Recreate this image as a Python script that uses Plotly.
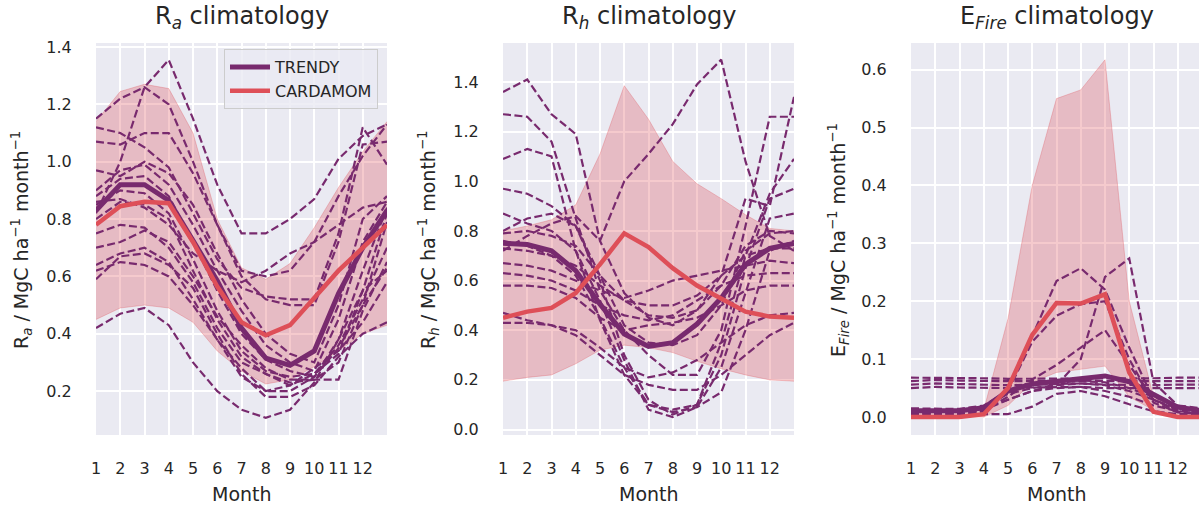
import plotly.graph_objects as go

# ---------------- data ----------------
MONTHS = list(range(1, 14))          # 13 points (Jan repeated at the end)
TICK_VALS = list(range(1, 13))
TICK_LABELS = [str(m) for m in range(1, 13)]

# ---- Ra ----
ra_trendy_mean = [0.83, 0.92, 0.92, 0.865, 0.725, 0.585, 0.42, 0.315, 0.29, 0.34, 0.54, 0.70, 0.83]
ra_cardamom = [0.78, 0.845, 0.86, 0.855, 0.72, 0.565, 0.44, 0.395, 0.43, 0.525, 0.62, 0.70, 0.78]
ra_card_low = [0.45, 0.49, 0.50, 0.49, 0.44, 0.34, 0.27, 0.225, 0.24, 0.285, 0.34, 0.40, 0.43]
ra_card_high = [1.14, 1.245, 1.27, 1.255, 1.10, 0.80, 0.63, 0.59, 0.645, 0.77, 0.91, 1.035, 1.14]
ra_models = [
    [1.15, 1.22, 1.26, 1.20, 1.00, 0.78, 0.62, 0.60, 0.62, 0.72, 0.88, 1.02, 1.13],
    [0.82, 1.00, 1.26, 1.355, 1.15, 0.92, 0.75, 0.75, 0.80, 0.87, 1.01, 1.09, 1.13],
    [1.12, 1.10, 1.05, 0.98, 0.82, 0.66, 0.56, 0.53, 0.52, 0.52, 0.75, 1.12, 0.99],
    [1.07, 1.06, 1.10, 1.10, 0.96, 0.78, 0.60, 0.52, 0.50, 0.50, 0.72, 1.06, 1.07],
    [0.97, 0.95, 1.00, 0.96, 0.85, 0.68, 0.52, 0.40, 0.33, 0.30, 0.50, 0.80, 0.88],
    [0.90, 0.97, 0.99, 0.92, 0.78, 0.62, 0.48, 0.36, 0.30, 0.27, 0.45, 0.72, 0.86],
    [0.88, 0.94, 0.95, 0.88, 0.72, 0.55, 0.40, 0.31, 0.27, 0.25, 0.38, 0.62, 0.84],
    [0.85, 0.90, 0.89, 0.82, 0.66, 0.48, 0.34, 0.27, 0.25, 0.26, 0.33, 0.55, 0.82],
    [0.80, 0.86, 0.85, 0.80, 0.62, 0.45, 0.32, 0.26, 0.23, 0.24, 0.30, 0.50, 0.79],
    [0.75, 0.78, 0.77, 0.70, 0.58, 0.42, 0.30, 0.26, 0.22, 0.26, 0.36, 0.52, 0.70],
    [0.70, 0.72, 0.76, 0.72, 0.60, 0.46, 0.36, 0.28, 0.24, 0.24, 0.24, 0.48, 0.65],
    [0.64, 0.68, 0.70, 0.65, 0.52, 0.38, 0.25, 0.20, 0.22, 0.28, 0.34, 0.44, 0.58],
    [0.59, 0.67, 0.68, 0.64, 0.56, 0.40, 0.26, 0.18, 0.18, 0.22, 0.32, 0.40, 0.44],
    [0.42, 0.47, 0.49, 0.43, 0.30, 0.20, 0.135, 0.107, 0.135, 0.23, 0.38, 0.55, 0.62],
    [0.62, 0.65, 0.64, 0.60, 0.50, 0.38, 0.28, 0.20, 0.20, 0.25, 0.35, 0.50, 0.63],
    [0.86, 0.87, 0.84, 0.78, 0.68, 0.62, 0.58, 0.62, 0.68, 0.72, 0.78, 0.84, 0.86],
]

# ---- Rh ----
rh_trendy_mean = [0.75, 0.745, 0.72, 0.64, 0.505, 0.385, 0.335, 0.35, 0.425, 0.53, 0.665, 0.73, 0.75]
rh_cardamom = [0.45, 0.475, 0.49, 0.55, 0.665, 0.79, 0.735, 0.65, 0.58, 0.525, 0.475, 0.455, 0.45]
rh_card_low = [0.195, 0.21, 0.22, 0.265, 0.32, 0.34, 0.33, 0.31, 0.275, 0.245, 0.22, 0.20, 0.195]
rh_card_high = [0.80, 0.82, 0.845, 0.905, 1.11, 1.385, 1.25, 1.08, 0.99, 0.93, 0.865, 0.81, 0.80]
rh_models = [
    [1.36, 1.41, 1.27, 1.19, 0.76, 0.55, 0.45, 0.42, 0.48, 0.62, 0.93, 0.90, 1.34],
    [1.27, 1.26, 1.16, 0.85, 0.56, 0.40, 0.30, 0.22, 0.22, 0.40, 0.82, 1.26, 1.26],
    [1.09, 1.13, 1.10, 0.72, 0.44, 0.22, 0.10, 0.08, 0.10, 0.35, 0.70, 0.95, 1.09],
    [0.72, 0.78, 0.83, 0.86, 0.76, 1.00, 1.11, 1.23, 1.39, 1.49, 1.08, 0.78, 0.72],
    [0.97, 0.95, 0.90, 0.82, 0.60, 0.30, 0.12, 0.06, 0.10, 0.30, 0.65, 0.93, 0.97],
    [0.87, 0.83, 0.80, 0.72, 0.52, 0.28, 0.08, 0.05, 0.09, 0.25, 0.55, 0.85, 0.87],
    [0.80, 0.85, 0.87, 0.82, 0.62, 0.42, 0.35, 0.34, 0.38, 0.50, 0.72, 0.79, 0.80],
    [0.79, 0.80, 0.78, 0.74, 0.62, 0.52, 0.46, 0.45, 0.48, 0.58, 0.74, 0.80, 0.79],
    [0.73, 0.72, 0.70, 0.66, 0.58, 0.52, 0.50, 0.50, 0.54, 0.62, 0.70, 0.73, 0.73],
    [0.67, 0.66, 0.64, 0.60, 0.56, 0.53, 0.56, 0.60, 0.62, 0.64, 0.66, 0.68, 0.67],
    [0.63, 0.62, 0.60, 0.56, 0.50, 0.46, 0.44, 0.46, 0.52, 0.58, 0.62, 0.63, 0.63],
    [0.58, 0.58, 0.57, 0.53, 0.45, 0.40, 0.42, 0.43, 0.45, 0.50, 0.56, 0.58, 0.58],
    [0.47, 0.44, 0.42, 0.40, 0.33, 0.25, 0.21, 0.23, 0.28, 0.35, 0.42, 0.46, 0.47],
    [0.43, 0.43, 0.42, 0.38, 0.30, 0.22, 0.18, 0.16, 0.16, 0.22, 0.30, 0.38, 0.43],
    [0.76, 0.74, 0.70, 0.62, 0.45, 0.25, 0.10, 0.07, 0.09, 0.15, 0.40, 0.72, 0.76],
]

# ---- EFire ----
fire_trendy_mean = [0.011, 0.011, 0.011, 0.016, 0.045, 0.057, 0.061, 0.066, 0.071, 0.061, 0.040, 0.017, 0.011]
fire_cardamom = [0.0, 0.0, 0.0, 0.005, 0.05, 0.142, 0.197, 0.196, 0.212, 0.077, 0.009, 0.0, 0.0]
fire_card_low = [0.0, 0.0, 0.0, 0.0, 0.02, 0.06, 0.077, 0.082, 0.088, 0.035, 0.012, 0.0, 0.0]
fire_card_high = [0.01, 0.01, 0.01, 0.012, 0.17, 0.40, 0.55, 0.565, 0.617, 0.20, 0.035, 0.008, 0.005]
fire_models = [
    [0.010, 0.010, 0.010, 0.015, 0.030, 0.045, 0.055, 0.100, 0.242, 0.274, 0.060, 0.020, 0.010],
    [0.005, 0.005, 0.005, 0.010, 0.050, 0.140, 0.235, 0.257, 0.220, 0.120, 0.030, 0.010, 0.005],
    [0.005, 0.005, 0.005, 0.010, 0.045, 0.130, 0.175, 0.195, 0.200, 0.100, 0.025, 0.008, 0.005],
    [0.010, 0.010, 0.010, 0.012, 0.035, 0.065, 0.090, 0.120, 0.150, 0.090, 0.030, 0.012, 0.010],
    [0.005, 0.005, 0.005, 0.004, 0.005, 0.018, 0.040, 0.045, 0.036, 0.022, 0.010, 0.005, 0.005],
    [0.068, 0.068, 0.067, 0.067, 0.066, 0.066, 0.066, 0.066, 0.066, 0.067, 0.067, 0.068, 0.068],
    [0.062, 0.064, 0.063, 0.062, 0.062, 0.062, 0.063, 0.063, 0.062, 0.062, 0.062, 0.063, 0.062],
    [0.056, 0.058, 0.057, 0.056, 0.055, 0.056, 0.057, 0.058, 0.056, 0.055, 0.055, 0.056, 0.056],
    [0.050, 0.052, 0.051, 0.050, 0.050, 0.051, 0.052, 0.052, 0.050, 0.050, 0.050, 0.050, 0.050],
    [0.015, 0.015, 0.014, 0.020, 0.045, 0.055, 0.060, 0.062, 0.060, 0.050, 0.035, 0.020, 0.015],
    [0.012, 0.012, 0.012, 0.018, 0.040, 0.050, 0.055, 0.058, 0.055, 0.045, 0.030, 0.015, 0.012],
    [0.008, 0.008, 0.008, 0.012, 0.030, 0.045, 0.050, 0.052, 0.045, 0.035, 0.020, 0.010, 0.008],
]

TITLES = ["R<sub><i>a</i></sub> climatology", "R<sub><i>h</i></sub> climatology",
          "E<sub><i>Fire</i></sub> climatology"]
YLABELS = ["R<sub><i>a</i></sub> / MgC ha<sup>−1</sup> month<sup>−1</sup>",
           "R<sub><i>h</i></sub> / MgC ha<sup>−1</sup> month<sup>−1</sup>",
           "E<sub><i>Fire</i></sub> / MgC ha<sup>−1</sup> month<sup>−1</sup>"]
XLABEL = "Month"

# ---------------- style ----------------
FW, FH = 1199, 510
PURPLE = "#782a6e"
RED = "#de4f58"
FILL = "rgba(222,79,88,0.30)"
EDGE = "rgba(222,79,88,0.30)"
BG = "#eaeaf2"
TXT = "#262626"
FONT = "DejaVu Sans"


def px_x(px):
    return px / FW


def px_y(py):
    return 1 - py / FH


panels_px = [(96, 387), (503, 794), (911, 1202)]
top_px, bot_px = 43, 435
yranges = [[0.047, 1.414], [-0.022, 1.557], [-0.031, 0.646]]
ydtick = [0.2, 0.2, 0.1]

panels = [
    (ra_models, ra_trendy_mean, ra_cardamom, ra_card_low, ra_card_high),
    (rh_models, rh_trendy_mean, rh_cardamom, rh_card_low, rh_card_high),
    (fire_models, fire_trendy_mean, fire_cardamom, fire_card_low, fire_card_high),
]

fig = go.Figure()
for i, (models, mean, card, low, high) in enumerate(panels):
    sfx = "" if i == 0 else str(i + 1)
    xa, ya = "x" + sfx, "y" + sfx
    fig.add_trace(go.Scatter(x=MONTHS, y=low, mode="lines", line=dict(color=EDGE, width=1),
                             showlegend=False, hoverinfo="skip", xaxis=xa, yaxis=ya))
    fig.add_trace(go.Scatter(x=MONTHS, y=high, mode="lines", fill="tonexty", fillcolor=FILL,
                             line=dict(color=EDGE, width=1),
                             showlegend=False, hoverinfo="skip", xaxis=xa, yaxis=ya))
    for m in models:
        fig.add_trace(go.Scatter(x=MONTHS, y=m, mode="lines",
                                 line=dict(color=PURPLE, width=2.2, dash="8px,3.5px"),
                                 showlegend=False, xaxis=xa, yaxis=ya))
    fig.add_trace(go.Scatter(x=MONTHS, y=mean, mode="lines", name="TRENDY", legendgroup="t",
                             line=dict(color=PURPLE, width=5), showlegend=(i == 0),
                             xaxis=xa, yaxis=ya))
    fig.add_trace(go.Scatter(x=MONTHS, y=card, mode="lines", name="CARDAMOM", legendgroup="c",
                             line=dict(color=RED, width=4.5), showlegend=(i == 0),
                             xaxis=xa, yaxis=ya))

layout = dict(
    width=FW, height=FH, margin=dict(l=0, r=0, t=0, b=0),
    paper_bgcolor="white", plot_bgcolor=BG,
    font=dict(family=FONT, color=TXT, size=16),
    legend=dict(x=px_x(378), xanchor="right", y=px_y(49), yanchor="top",
                traceorder="normal", tracegroupgap=4, itemwidth=40,
                bgcolor="rgba(234,234,242,0.8)", bordercolor="#cccccc", borderwidth=1,
                font=dict(size=16, color=TXT)),
    annotations=[],
)
for i in range(3):
    sfx = "" if i == 0 else str(i + 1)
    x0, x1 = panels_px[i]
    spacing = (x1 - x0) / 12.0
    x1v = min(x1, FW)
    xr_end = 1 + (x1v - x0) / spacing
    layout["xaxis" + sfx] = dict(
        domain=[px_x(x0), px_x(x1v)], range=[1, xr_end], anchor="y" + sfx,
        tickvals=TICK_VALS, ticktext=TICK_LABELS, showgrid=True, gridcolor="white", gridwidth=1.8,
        zeroline=False, showline=False, ticks="outside", ticklen=19, tickcolor="rgba(0,0,0,0)",
        tickfont=dict(size=16, color=TXT), automargin=False)
    layout["yaxis" + sfx] = dict(
        domain=[px_y(bot_px), px_y(top_px)], range=yranges[i], anchor="x" + sfx,
        dtick=ydtick[i], tick0=0, tickformat=".1f", showgrid=True, gridcolor="white", gridwidth=1.8,
        zeroline=False, showline=False, ticks="outside", ticklen=20, tickcolor="rgba(0,0,0,0)",
        tickfont=dict(size=16, color=TXT), automargin=False)
    cx = (x0 + x1) / 2.0
    layout["annotations"].append(dict(text=TITLES[i], x=px_x(cx), y=px_y(18), xref="paper", yref="paper",
                                      showarrow=False, xanchor="center", yanchor="middle",
                                      font=dict(size=24, color=TXT)))
    layout["annotations"].append(dict(text=XLABEL, x=px_x(cx), y=px_y(494), xref="paper", yref="paper",
                                      showarrow=False, xanchor="center", yanchor="middle",
                                      font=dict(size=19, color=TXT)))
    ylx = [21, 428, 838][i]
    layout["annotations"].append(dict(text=YLABELS[i], x=px_x(ylx), y=px_y(240), xref="paper", yref="paper",
                                      showarrow=False, xanchor="center", yanchor="middle", textangle=-90,
                                      font=dict(size=19, color=TXT)))

fig.update_layout(**layout)
fig.write_html("out.html", config={"displayModeBar": False},
               post_script="document.body.style.margin='0px';document.body.style.overflow='hidden';")
